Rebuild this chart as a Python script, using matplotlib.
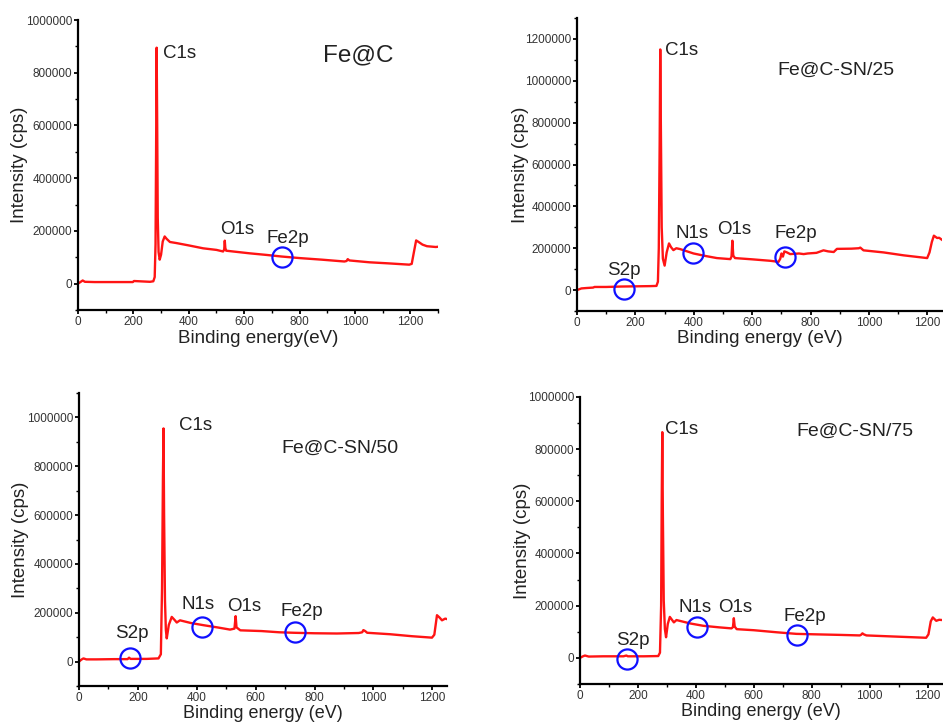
import matplotlib
matplotlib.use('Agg')
import matplotlib.pyplot as plt
from matplotlib.ticker import MultipleLocator, FormatStrFormatter

plt.rcParams['font.family'] = ['Liberation Sans', 'DejaVu Sans']

# spectra (binding energy in eV, intensity in cps)
fec_x = [0, 10, 17, 25, 60, 120, 198, 202, 260, 272,
         277, 280, 282, 284, 286, 288, 291, 295, 300, 306,
         313, 320, 332, 355, 400, 452, 500, 524, 528, 530,
         532, 535, 560, 620, 680, 734, 800, 880, 962, 970,
         974, 980, 1052, 1120, 1196, 1205, 1213, 1221, 1230, 1244,
         1260, 1292, 1300]
fec_y = [0, 7000, 12000, 7000, 6000, 6000, 6000, 10000, 7000, 9000,
         25000, 150000, 500000, 895000, 600000, 250000, 120000, 91000, 110000, 160000,
         179000, 170000, 158000, 154000, 145000, 134000, 128000, 122000, 130000, 163000,
         135000, 125000, 122000, 115000, 109000, 103000, 97000, 91000, 84000, 86000,
         93000, 88000, 81000, 77000, 72000, 75000, 120000, 164000, 158000, 148000,
         142000, 139000, 140000]

sn25_x = [0, 15, 33, 55, 60, 100, 150, 200, 250, 272,
          277, 280, 283, 285, 287, 290, 294, 300, 307, 315,
          322, 330, 340, 353, 399, 440, 479, 525, 529, 532,
          535, 541, 600, 662, 690, 696, 700, 705, 710, 719,
          730, 760, 776, 790, 820, 844, 860, 879, 890, 940,
          965, 970, 981, 1050, 1119, 1199, 1207, 1215, 1222, 1233,
          1240, 1250]
sn25_y = [0, 8000, 10000, 12000, 15000, 15000, 17000, 18000, 19000, 20000,
          40000, 200000, 700000, 1150000, 800000, 300000, 150000, 117000, 180000, 223000,
          205000, 191000, 200000, 196000, 175000, 163000, 153000, 148000, 160000, 236000,
          165000, 153000, 147000, 140000, 135000, 150000, 175000, 160000, 185000, 180000,
          172000, 175000, 172000, 175000, 178000, 190000, 185000, 182000, 197000, 198000,
          200000, 203000, 190000, 180000, 166000, 153000, 180000, 230000, 260000, 249000,
          250000, 240000]

sn50_x = [0, 8, 15, 25, 60, 120, 165, 170, 175, 230,
          270, 278, 282, 285, 287, 289, 292, 295, 298, 305,
          315, 325, 332, 343, 380, 423, 470, 513, 528, 532,
          535, 548, 620, 680, 729, 800, 876, 950, 962, 966,
          972, 979, 1057, 1130, 1199, 1207, 1216, 1225, 1233, 1244,
          1250]
sn50_y = [0, 8000, 13000, 9000, 9000, 10000, 10000, 16000, 11000, 11000,
          13000, 30000, 300000, 750000, 955000, 600000, 250000, 130000, 95000, 150000,
          183000, 170000, 160000, 169000, 158000, 149000, 140000, 131000, 135000, 186000,
          140000, 128000, 125000, 120000, 118000, 116000, 115000, 117000, 120000, 129000,
          125000, 118000, 112000, 104000, 98000, 110000, 190000, 180000, 169000, 176000,
          174000]

sn75_x = [0, 10, 17, 30, 80, 150, 160, 165, 220, 270,
          276, 280, 282, 284, 286, 289, 293, 297, 303, 310,
          318, 324, 333, 380, 425, 480, 523, 528, 531, 534,
          541, 600, 680, 747, 820, 900, 966, 971, 975, 980,
          989, 1080, 1150, 1195, 1203, 1211, 1218, 1230, 1240, 1250]
sn75_y = [0, 6000, 9000, 5000, 6000, 6000, 9000, 6000, 6000, 7000,
          20000, 200000, 600000, 865000, 550000, 220000, 110000, 79000, 130000, 157000,
          145000, 136000, 145000, 132000, 123000, 117000, 113000, 118000, 152000, 120000,
          110000, 106000, 98000, 92000, 90000, 88000, 86000, 89000, 94000, 90000,
          86000, 82000, 79000, 77000, 90000, 140000, 155000, 142000, 146000, 145000]

# circled peaks (energy, intensity)
fec_circ_x = [737]
fec_circ_y = [102000]
sn25_circ_x = [161, 397, 713]
sn25_circ_y = [6000, 175000, 159000]
sn50_circ_x = [173, 419, 734]
sn50_circ_y = [16000, 140000, 122000]
sn75_circ_x = [161, 405, 749]
sn75_circ_y = [-5000, 120000, 88000]

sample_names = ['Fe@C', 'Fe@C-SN/25', 'Fe@C-SN/50', 'Fe@C-SN/75']

# peak label anchors (left edge, vertical centre) in data units
fec_labels = [('C1s', 307, 874000), ('O1s', 514, 205000), ('Fe2p', 680, 173000)]
sn25_labels = [('C1s', 302, 1147000), ('N1s', 338, 271000), ('O1s', 481, 290000),
               ('Fe2p', 675, 271000), ('S2p', 102, 96000)]
sn50_labels = [('C1s', 338, 969000), ('N1s', 349, 235000), ('O1s', 502, 226000),
               ('Fe2p', 683, 207000), ('S2p', 122, 115000)]
sn75_labels = [('C1s', 293, 875000), ('N1s', 339, 192000), ('O1s', 477, 192000),
               ('Fe2p', 701, 157000), ('S2p', 123, 67000)]

panels = [
    dict(rect=[0.0827, 0.5724, 0.3818, 0.400], x=fec_x, y=fec_y, cx=fec_circ_x, cy=fec_circ_y,
         labels=fec_labels, name=(883, 867000, 17.5), xlim=1300, ylim=1000000,
         xlabel='Binding energy(eV)', ylc=-0.138, xlc=-0.068, xfs=13.5),
    dict(rect=[0.6119, 0.5710, 0.3871, 0.4041], x=sn25_x, y=sn25_y, cx=sn25_circ_x, cy=sn25_circ_y,
         labels=sn25_labels, name=(685, 1050000, 14), xlim=1250, ylim=1300000,
         xlabel='Binding energy (eV)', ylc=-0.131, xlc=-0.064, xfs=13.5),
    dict(rect=[0.0838, 0.0538, 0.3902, 0.4041], x=sn50_x, y=sn50_y, cx=sn50_circ_x, cy=sn50_circ_y,
         labels=sn50_labels, name=(689, 874000, 14), xlim=1250, ylim=1100000,
         xlabel='Binding energy (eV)', ylc=-0.135, xlc=-0.064, xfs=13),
    dict(rect=[0.6151, 0.0566, 0.3839, 0.3959], x=sn75_x, y=sn75_y, cx=sn75_circ_x, cy=sn75_circ_y,
         labels=sn75_labels, name=(747, 869000, 14), xlim=1250, ylim=1000000,
         xlabel='Binding energy (eV)', ylc=-0.135, xlc=-0.066, xfs=13),
]

fig = plt.figure(figsize=(9.43, 7.25), dpi=100)

for p, name in zip(panels, sample_names):
    ax = fig.add_axes(p['rect'])
    ax.plot(p['x'], p['y'], color='#ff1414', lw=1.7)
    ax.plot(p['cx'], p['cy'], 'o', ms=14.5, mfc='none', mec='#1010ff', mew=1.6)
    for txt, lx, ly in p['labels']:
        ax.text(lx, ly, txt, fontsize=13.5, ha='left', va='center', color='#222222')
    nx, ny, fs = p['name']
    ax.text(nx, ny, name, fontsize=fs, ha='left', va='center', color='#222222')

    ax.set_xlim(0, p['xlim'])
    ax.set_ylim(-100000, p['ylim'])
    ax.xaxis.set_major_locator(MultipleLocator(200))
    ax.xaxis.set_minor_locator(MultipleLocator(100))
    ax.yaxis.set_major_locator(MultipleLocator(200000))
    ax.yaxis.set_minor_locator(MultipleLocator(100000))
    ax.yaxis.set_major_formatter(FormatStrFormatter('%d'))
    ax.xaxis.set_major_formatter(FormatStrFormatter('%d'))

    for s in ['top', 'right']:
        ax.spines[s].set_visible(False)
    for s in ['left', 'bottom']:
        ax.spines[s].set_linewidth(1.6)
    ax.tick_params(which='major', length=3, width=1.3, labelsize=8.5, pad=1,
                   labelcolor='#333333')
    ax.tick_params(which='minor', length=2, width=1)
    ax.patch.set_alpha(0)

    ax.set_ylabel('Intensity (cps)', fontsize=13.5, color='#222222')
    ax.yaxis.set_label_coords(p['ylc'], 0.5)
    ax.set_xlabel(p['xlabel'], fontsize=p['xfs'], color='#222222', va='top')
    ax.xaxis.set_label_coords(0.5, p['xlc'])

fig.savefig('out.png', dpi=100)
